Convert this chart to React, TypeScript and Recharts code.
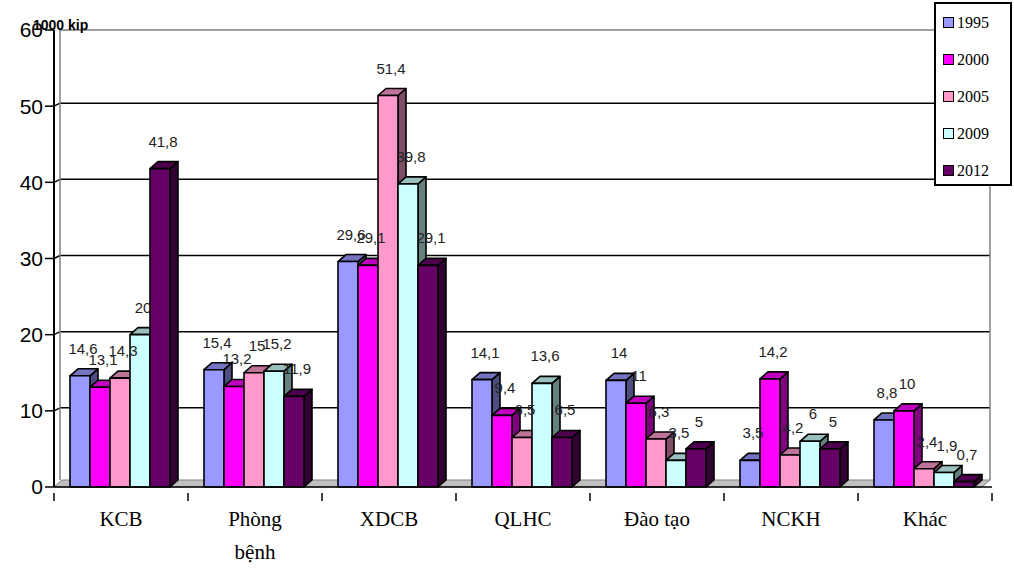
import { BarChart, Bar, XAxis, YAxis, CartesianGrid, LabelList } from "recharts";

// Spending per category, in thousand kip
const categories = ["KCB", "Phòng bệnh", "XDCB", "QLHC", "Đào tạo", "NCKH", "Khác"];
const years = ["1995", "2000", "2005", "2009", "2012"];
const v1995 = [14.6, 15.4, 29.6, 14.1, 14, 3.5, 8.8];
const v2000 = [13.1, 13.2, 29.1, 9.4, 11, 14.2, 10];
const v2005 = [14.3, 15, 51.4, 6.5, 6.3, 4.2, 2.4];
const v2009 = [20, 15.2, 39.8, 13.6, 3.5, 6, 1.9];
const v2012 = [41.8, 11.9, 29.1, 6.5, 5, 5, 0.7];
const yTicks = [0, 10, 20, 30, 40, 50, 60];

const seriesValues = [v1995, v2000, v2005, v2009, v2012];
const data = categories.map((name, i) => {
  const row: Record<string, string | number> = { name };
  years.forEach((y, s) => (row[y] = seriesValues[s][i]));
  return row;
});

const FRONT = ["#9999ff", "#ff00ff", "#ff99cc", "#ccffff", "#660066"];
const TOP = ["#7373bf", "#bf00bf", "#bf7399", "#99bfbf", "#4d004d"];
const SIDE = ["#4d4d80", "#800080", "#804d66", "#668080", "#330033"];

const W = 1014;
const H = 575;
const AXIS_H = 88;
const Y_AXIS_W = 54;
const MARGIN = { top: 30, right: 22, bottom: 0, left: 0 };
const FLOOR_Y = H - AXIS_H;
const DX = 8;
const DY = 7;
const WALL_DX = 6;
const WALL_DY = 3;

const Bar3D = (s: number) => (props: any) => {
  const { x, y, width, height } = props;
  if (height == null || width == null) return null;
  const st = { stroke: "#000", strokeWidth: 1.6, strokeLinejoin: "round" as const };
  return (
    <g>
      <polygon
        points={`${x + width},${y} ${x + width + DX},${y - DY} ${x + width + DX},${y + height - DY} ${x + width},${y + height}`}
        fill={SIDE[s]}
        {...st}
      />
      <polygon
        points={`${x},${y} ${x + DX},${y - DY} ${x + width + DX},${y - DY} ${x + width},${y}`}
        fill={TOP[s]}
        {...st}
      />
      <rect x={x} y={y} width={width} height={height} fill={FRONT[s]} {...st} />
    </g>
  );
};

const fmt = (v: number) => String(v).replace(".", ",");

const ValueLabel = (props: any) => {
  const { x, y, width, value } = props;
  return (
    <text
      x={x + width / 2 + 3}
      y={y - 22}
      textAnchor="middle"
      fontFamily="'Liberation Sans', Arial, sans-serif"
      fontSize={15}
      fill="#222"
    >
      {fmt(value)}
    </text>
  );
};

// Back wall, floor and horizontal gridlines
const GridLine = (props: any) => {
  const { x1, x2, y1, index } = props;
  if (index === 0) {
    return (
      <polygon
        points={`${x1},${y1} ${x1 + DX},${y1 - DY} ${x2 - 2},${y1 - DY} ${x2 - 10},${y1}`}
        fill="#c0c0c0"
        stroke="#808080"
        strokeWidth={1}
      />
    );
  }
  if (index === yTicks.length - 1) {
    return (
      <g>
        <line x1={x1 + WALL_DX} y1={y1} x2={x2 - 2} y2={y1} stroke="#808080" strokeWidth={1.5} />
        <line x1={x1 + WALL_DX} y1={y1} x2={x1 + WALL_DX} y2={FLOOR_Y - DY} stroke="#808080" strokeWidth={1.5} />
        <line x1={x2 - 2} y1={y1} x2={x2 - 2} y2={FLOOR_Y - DY} stroke="#808080" strokeWidth={1.5} />
      </g>
    );
  }
  return (
    <g>
      <line x1={x1} y1={y1} x2={x1 + WALL_DX} y2={y1 - WALL_DY} stroke="#000" strokeWidth={1.5} />
      <line x1={x1 + WALL_DX} y1={y1 - WALL_DY} x2={x2 - 2} y2={y1 - WALL_DY} stroke="#000" strokeWidth={1.5} />
    </g>
  );
};

const CategoryTick = (props: any) => {
  const { x, y, payload, index } = props;
  const band = (W - MARGIN.left - MARGIN.right - Y_AXIS_W) / categories.length;
  const words = String(payload.value) === "Phòng bệnh" ? ["Phòng", "bệnh"] : [String(payload.value)];
  return (
    <g>
      <line x1={x - band / 2} y1={y - 2} x2={x - band / 2} y2={y + 6} stroke="#000" strokeWidth={1.5} />
      {index === categories.length - 1 && (
        <line x1={x + band / 2} y1={y - 2} x2={x + band / 2} y2={y + 6} stroke="#000" strokeWidth={1.5} />
      )}
      {words.map((w, i) => (
        <text
          key={w}
          x={x}
          y={y + 31 + i * 33}
          textAnchor="middle"
          fontFamily="'Liberation Serif', 'Times New Roman', serif"
          fontSize={21}
          fill="#000"
        >
          {w}
        </text>
      ))}
    </g>
  );
};

const LegendBox = () => (
  <div
    style={{
      position: "absolute",
      left: 934,
      top: 2,
      border: "2px solid #000",
      background: "#fff",
      width: 78,
      height: 184,
      boxSizing: "border-box",
      padding: "0 0 0 7px",
      fontFamily: "'Liberation Serif', 'Times New Roman', serif",
      fontSize: 16,
    }}
  >
    {years.map((y, i) => (
      <div key={y} style={{ display: "flex", alignItems: "center", height: 37 }}>
        <span
          style={{
            display: "inline-block",
            width: 9,
            height: 9,
            border: "1.5px solid #000",
            background: FRONT[i],
            marginRight: 3,
          }}
        />
        {y}
      </div>
    ))}
  </div>
);

export default function App() {
  return (
    <div style={{ position: "absolute", left: 0, top: 0, width: W, height: H, background: "#fff" }}>
      <BarChart
        width={W}
        height={H}
        data={data}
        margin={MARGIN}
        barCategoryGap={16}
        barGap={0}
      >
        <CartesianGrid vertical={false} horizontal={GridLine} />
        <XAxis
          dataKey="name"
          interval={0}
          tickLine={false}
          axisLine={{ stroke: "#000", strokeWidth: 1.5 }}
          tick={CategoryTick}
          height={AXIS_H}
        />
        <YAxis
          domain={[0, 60]}
          ticks={yTicks}
          width={Y_AXIS_W}
          tickLine={{ stroke: "#000", strokeWidth: 1.5 }}
          tickSize={9}
          axisLine={{ stroke: "#000", strokeWidth: 2 }}
          tick={{ fontFamily: "'Liberation Sans', Arial, sans-serif", fontSize: 21, fill: "#000" }}
          tickMargin={2}
        />
        {years.map((y, s) => (
          <Bar key={y} dataKey={y} shape={Bar3D(s)} isAnimationActive={false}>
            <LabelList dataKey={y} content={ValueLabel} />
          </Bar>
        ))}
      </BarChart>
      <LegendBox />
      <div
        style={{
          position: "absolute",
          left: 33,
          top: 17,
          fontFamily: "'Liberation Sans', Arial, sans-serif",
          fontWeight: "bold",
          fontSize: 14,
        }}
      >
        1000 kip
      </div>
    </div>
  );
}
